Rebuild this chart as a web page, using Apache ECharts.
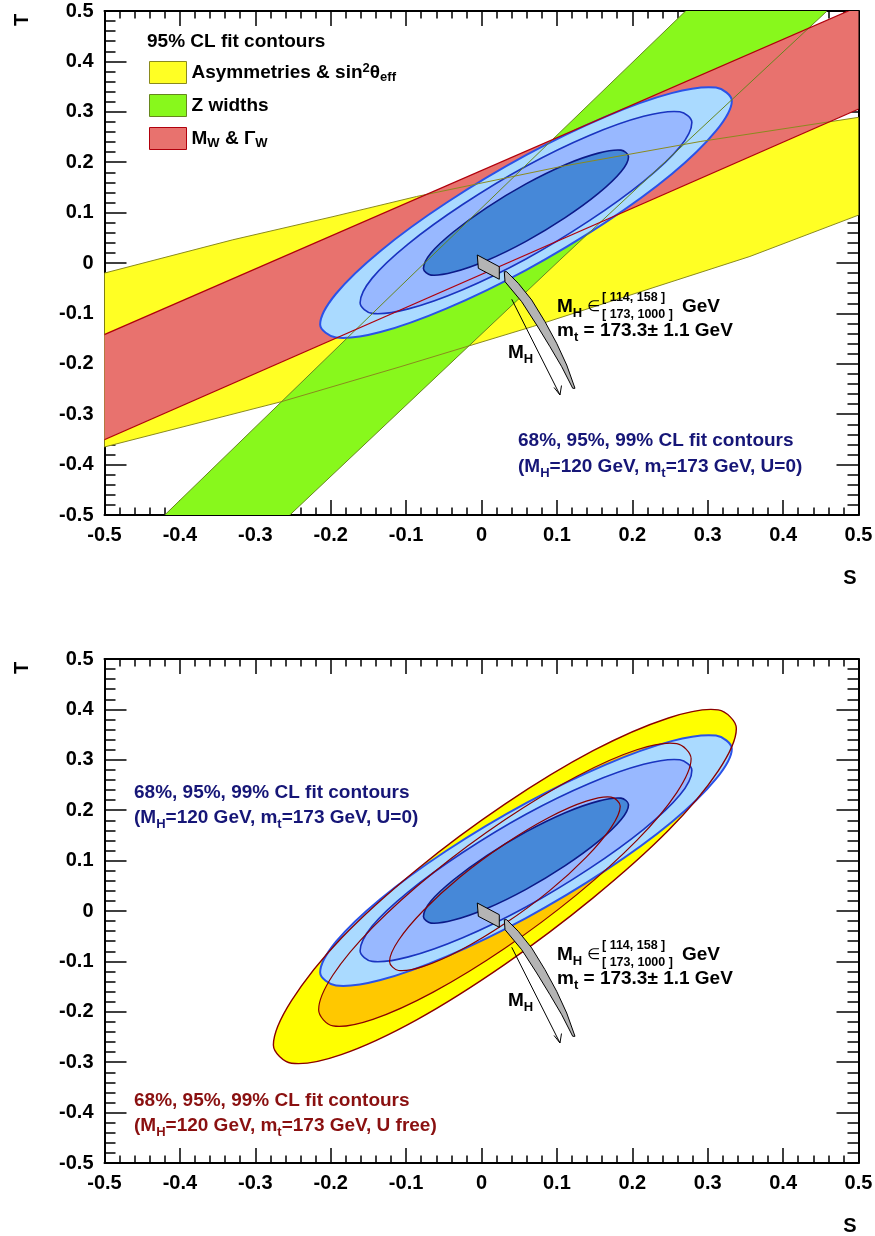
<!DOCTYPE html>
<html>
<head>
<meta charset="utf-8">
<script src="https://cdn.jsdelivr.net/npm/echarts/dist/echarts.min.js"></script>
<style>
  html, body { margin: 0; padding: 0; background: #fff; }
  #main { width: 875px; height: 1236px; }
</style>
</head>
<body>
<div id="main"></div>
<script>
var FONT = '"Liberation Sans", Arial, Helvetica, sans-serif';

// axis range (S and T share it)
var axisMin = -0.5, axisMax = 0.5, tickStep = 0.1;

// 95% CL bands of the single observables, edges as [S, T]
var yellowUpper = [[-0.6, -0.059], [-0.5, -0.020], [-0.33, 0.046], [-0.197, 0.092], [-0.086, 0.132], [0.104, 0.191], [0.29, 0.241], [0.5, 0.289], [0.6, 0.31]];
var yellowLower = [[-0.6, -0.40], [-0.5, -0.365], [-0.265, -0.275], [-0.108, -0.206], [0.068, -0.126], [0.356, 0.013], [0.5, 0.095], [0.6, 0.153]];
var greenLeft = [[-0.489, -0.6], [-0.108, -0.047], [0.340, 0.6]];
var greenRight = [[-0.325, -0.6], [0.104, 0.006], [0.530, 0.6]];
var redUpper = [[-0.6, -0.207], [0.6, 0.574]];
var redLower = [[-0.6, -0.416], [0.6, 0.371]];

// global fit contours, U = 0
var fit68 = [[0.195,0.211],[0.185,0.224],[0.155,0.218],[0.111,0.195],[0.059,0.157],[0.007,0.110],[-0.037,0.062],[-0.067,0.020],[-0.077,-0.011],[-0.067,-0.024],[-0.037,-0.018],[0.007,0.005],[0.059,0.043],[0.111,0.090],[0.155,0.138],[0.185,0.181]];
var fit95 = [[0.279,0.279],[0.263,0.300],[0.215,0.291],[0.143,0.253],[0.059,0.192],[-0.025,0.116],[-0.097,0.038],[-0.145,-0.030],[-0.161,-0.079],[-0.145,-0.100],[-0.097,-0.091],[-0.025,-0.053],[0.059,0.008],[0.143,0.084],[0.215,0.162],[0.263,0.230]];
var fit99 = [[0.332,0.322],[0.311,0.348],[0.252,0.337],[0.164,0.290],[0.059,0.214],[-0.046,0.120],[-0.134,0.024],[-0.193,-0.061],[-0.214,-0.122],[-0.193,-0.148],[-0.134,-0.137],[-0.046,-0.090],[0.059,-0.014],[0.164,0.080],[0.252,0.176],[0.311,0.262]];

// global fit contours, U free
var free68 = [[0.184,0.208],[0.172,0.226],[0.139,0.218],[0.090,0.186],[0.031,0.133],[-0.028,0.068],[-0.077,0.001],[-0.110,-0.058],[-0.122,-0.100],[-0.110,-0.118],[-0.077,-0.110],[-0.028,-0.078],[0.031,-0.025],[0.090,0.040],[0.139,0.107],[0.172,0.166]];
var free95 = [[0.278,0.302],[0.259,0.332],[0.206,0.320],[0.126,0.267],[0.031,0.181],[-0.064,0.076],[-0.144,-0.032],[-0.197,-0.127],[-0.216,-0.196],[-0.197,-0.228],[-0.144,-0.215],[-0.064,-0.161],[0.031,-0.074],[0.126,0.032],[0.206,0.140],[0.259,0.235]];
var free99 = [[0.338,0.362],[0.314,0.399],[0.248,0.383],[0.148,0.318],[0.031,0.212],[-0.086,0.082],[-0.186,-0.054],[-0.252,-0.178],[-0.276,-0.266],[-0.252,-0.302],[-0.186,-0.285],[-0.086,-0.216],[0.031,-0.106],[0.148,0.026],[0.248,0.160],[0.314,0.278]];

// SM prediction for M_H in [114,158] (box) and [173,1000] (tail), plus the M_H arrow
var mhLowBox = [[-0.0056, 0.0159], [0.0236, -0.0073], [0.0236, -0.0323], [-0.0042, -0.0105]];
var mhHighBand = [[0.0302,-0.0173],[0.0312,-0.0371],[0.0533,-0.0768],[0.0732,-0.1230],[0.0908,-0.1661],[0.1064,-0.2058],[0.1210,-0.2486],[0.1240,-0.2486],[0.1130,-0.2024],[0.0997,-0.1593],[0.0842,-0.1165],[0.0666,-0.0734],[0.0488,-0.0403],[0.0334,-0.0173]];
var mhArrow = [[0.0401, -0.0720], [0.1041, -0.2619]];
var mhArrowHead = [[0.0962, -0.2470], [0.1041, -0.2619], [0.1061, -0.2431]];

var legendLabels = {
  asym: '{b|Asymmetries & sin}{sup|2}{b|θ}{sub|eff}',
  zwid: '{b|Z widths}',
  mw: '{b|M}{sub|W}{b| & Γ}{sub|W}'
};

function richStyles(size, lh) {
  var small = Math.round(size * 0.68);
  return {
    b: { fontFamily: FONT, fontWeight: 'bold', fontSize: size, lineHeight: lh, verticalAlign: 'middle' },
    sub: { fontFamily: FONT, fontWeight: 'bold', fontSize: small, lineHeight: small, verticalAlign: 'bottom' },
    sup: { fontFamily: FONT, fontWeight: 'bold', fontSize: small, lineHeight: small, verticalAlign: 'top' },
    el: { fontFamily: '"DejaVu Sans", sans-serif', fontWeight: 'normal', fontSize: Math.round(size * 0.8), lineHeight: lh, verticalAlign: 'middle' }
  };
}

var chart = echarts.init(document.getElementById('main'));

// one polygon / polyline drawn through the axes of grid gi
function shape(gi, pts, st, closed, extra) {
  return Object.assign({
    type: 'custom',
    xAxisIndex: gi * 2,
    yAxisIndex: gi * 2,
    clip: true,
    silent: true,
    data: pts,
    renderItem: function (params, api) {
      if (params.dataIndex !== 0) return;
      var cs = params.coordSys;
      return {
        type: closed ? 'polygon' : 'polyline',
        clipPath: { type: 'rect', shape: { x: cs.x, y: cs.y, width: cs.width, height: cs.height } },
        shape: { points: pts.map(function (p) { return api.coord(p); }), smooth: st.smooth || 0 },
        style: { fill: closed ? st.fill : null, stroke: st.stroke || null, lineWidth: st.lw || 0 }
      };
    }
  }, extra || {});
}

function band(upper, lower) {
  return upper.concat(lower.slice().reverse());
}

var YEL = '#ffff24', YEL_LN = '#8a8a1e';
var GRN = '#88f81c', GRN_LN = '#66861e';
var RED = '#e8726e', RED_LN = '#b0000c';
var ELL = 0.34;

function mhMarks(gi) {
  return [
    shape(gi, mhLowBox, { fill: '#b4b4b4', stroke: '#000', lw: 1 }, true),
    shape(gi, mhHighBand, { fill: '#b4b4b4', stroke: '#000', lw: 1 }, true),
    shape(gi, mhArrow, { stroke: '#000', lw: 1 }, false),
    shape(gi, mhArrowHead, { stroke: '#000', lw: 1 }, false)
  ];
}

function fitContours(gi) {
  return [
    shape(gi, fit99, { fill: '#aadaff', stroke: '#2a52e8', lw: 2, smooth: ELL }, true),
    shape(gi, fit95, { fill: '#98b8ff', stroke: '#1a34c0', lw: 1.6, smooth: ELL }, true),
    shape(gi, fit68, { fill: '#4688d8', stroke: '#0c1a88', lw: 1.6, smooth: ELL }, true)
  ];
}

var series = [
  shape(0, band(yellowUpper, yellowLower), { fill: YEL }, true,
    { name: 'asym', itemStyle: { color: YEL, borderColor: YEL_LN, borderWidth: 1 } }),
  shape(0, band(greenLeft, greenRight), { fill: GRN }, true,
    { name: 'zwid', itemStyle: { color: GRN, borderColor: GRN_LN, borderWidth: 1 } }),
  shape(0, band(redUpper, redLower), { fill: RED }, true,
    { name: 'mw', itemStyle: { color: RED, borderColor: RED_LN, borderWidth: 1 } })
].concat(fitContours(0)).concat([
  shape(0, yellowUpper, { stroke: YEL_LN, lw: 1 }, false),
  shape(0, yellowLower, { stroke: YEL_LN, lw: 1 }, false),
  shape(0, greenLeft, { stroke: GRN_LN, lw: 1 }, false),
  shape(0, greenRight, { stroke: GRN_LN, lw: 1 }, false),
  shape(0, redUpper, { stroke: RED_LN, lw: 1.2 }, false),
  shape(0, redLower, { stroke: RED_LN, lw: 1.2 }, false)
]).concat(mhMarks(0)).concat([
  shape(1, free99, { fill: '#ffff00', smooth: ELL }, true),
  shape(1, free95, { fill: '#ffc800', smooth: ELL }, true)
]).concat(fitContours(1)).concat([
  shape(1, free99, { stroke: '#8b0000', lw: 1.4, smooth: ELL }, true),
  shape(1, free95, { stroke: '#8b0000', lw: 1.2, smooth: ELL }, true),
  shape(1, free68, { stroke: '#8b0000', lw: 1.2, smooth: ELL }, true)
]).concat(mhMarks(1));

function tickFmt(v) {
  return Math.abs(v) < 1e-9 ? '0' : String(Math.round(v * 10) / 10);
}

var xAxes = [], yAxes = [];
[0, 1].forEach(function (gi) {
  var base = {
    gridIndex: gi, type: 'value', min: axisMin, max: axisMax, interval: tickStep,
    splitLine: { show: false }, minorSplitLine: { show: false },
    axisLine: { show: true, onZero: false, lineStyle: { color: '#000', width: 2 } }
  };
  var lbl = { show: true, color: '#000', fontSize: 20, fontWeight: 'bold', fontFamily: FONT, margin: 10, formatter: tickFmt };
  var xt = { axisTick: { show: true, inside: true, length: 15, lineStyle: { color: '#000', width: 1.5 } },
             minorTick: { show: true, splitNumber: 5, length: 7.5, lineStyle: { color: '#000', width: 1.5 } } };
  var yt = { axisTick: { show: true, inside: true, length: 22, lineStyle: { color: '#000', width: 1.5 } },
             minorTick: { show: true, splitNumber: 5, length: 11, lineStyle: { color: '#000', width: 1.5 } } };
  xAxes.push(Object.assign({}, base, xt, { position: 'bottom', axisLabel: lbl }));
  xAxes.push(Object.assign({}, base, xt, { position: 'top', axisLabel: { show: false } }));
  yAxes.push(Object.assign({}, base, yt, { position: 'left', axisLabel: Object.assign({}, lbl, { margin: 11 }) }));
  yAxes.push(Object.assign({}, base, yt, { position: 'right', axisLabel: { show: false } }));
});

function note(x, y, text, color, size) {
  size = size || 19;
  return {
    type: 'text', x: x, y: y, z: 100, silent: true,
    style: {
      text: text, fill: color || '#000', font: 'bold ' + size + 'px ' + FONT,
      rich: richStyles(size, Math.round(size * 1.37)),
      align: 'left', verticalAlign: 'middle', textAlign: 'left', textVerticalAlign: 'middle'
    }
  };
}

function axisTitle(x, y, text, rot) {
  return {
    type: 'text', x: x, y: y, rotation: rot || 0, z: 100, silent: true,
    style: { text: text, fill: '#000', font: 'bold 20px ' + FONT, align: 'center', verticalAlign: 'middle', textAlign: 'center', textVerticalAlign: 'middle' }
  };
}

var BLUE_TXT = '#161677', RED_TXT = '#8a1010';
var PANEL_DY = 648;

function mhNotes(dy) {
  return [
    note(557, 306.7 + dy, '{b|M}{sub|H}{el| ∈}'),
    note(602, 298 + dy, '[ 114, 158 ]', '#000', 12.5),
    note(602, 315 + dy, '[ 173, 1000 ]', '#000', 12.5),
    note(682, 306.7 + dy, 'GeV'),
    note(557, 331 + dy, '{b|m}{sub|t}{b| = 173.3± 1.1 GeV}'),
    note(508, 353 + dy, '{b|M}{sub|H}')
  ];
}

var graphics = [
  axisTitle(22.8, 20, 'T', Math.PI / 2),
  axisTitle(850, 578, 'S'),
  axisTitle(22.8, 20 + PANEL_DY, 'T', Math.PI / 2),
  axisTitle(850, 578 + PANEL_DY, 'S'),
  note(147, 41.7, '95% CL fit contours'),
  note(518, 441, '68%, 95%, 99% CL fit contours', BLUE_TXT),
  note(518, 467, '{b|(M}{sub|H}{b|=120 GeV, m}{sub|t}{b|=173 GeV, U=0)}', BLUE_TXT),
  note(134, 793, '68%, 95%, 99% CL fit contours', BLUE_TXT),
  note(134, 818, '{b|(M}{sub|H}{b|=120 GeV, m}{sub|t}{b|=173 GeV, U=0)}', BLUE_TXT),
  note(134, 1101, '68%, 95%, 99% CL fit contours', RED_TXT),
  note(134, 1126, '{b|(M}{sub|H}{b|=120 GeV, m}{sub|t}{b|=173 GeV, U free)}', RED_TXT)
].concat(mhNotes(0)).concat(mhNotes(PANEL_DY));

chart.setOption({
  animation: false,
  backgroundColor: '#fff',
  grid: [
    { left: 104.5, top: 11, width: 754, height: 504, outerBoundsMode: 'none' },
    { left: 104.5, top: 659, width: 754, height: 504, outerBoundsMode: 'none' }
  ],
  xAxis: xAxes,
  yAxis: yAxes,
  legend: {
    orient: 'vertical', left: 149, top: 61, padding: 0,
    itemWidth: 37, itemHeight: 22, itemGap: 10, icon: 'rect',
    selectedMode: false,
    data: ['asym', 'zwid', 'mw'],
    itemStyle: { borderWidth: 1 },
    formatter: function (name) { return legendLabels[name]; },
    textStyle: { color: '#000', fontSize: 19, fontWeight: 'bold', fontFamily: FONT, lineHeight: 22, rich: richStyles(19, 22) }
  },
  graphic: { elements: graphics },
  series: series
});

window.addEventListener('resize', function () { chart.resize(); });
</script>
</body>
</html>
